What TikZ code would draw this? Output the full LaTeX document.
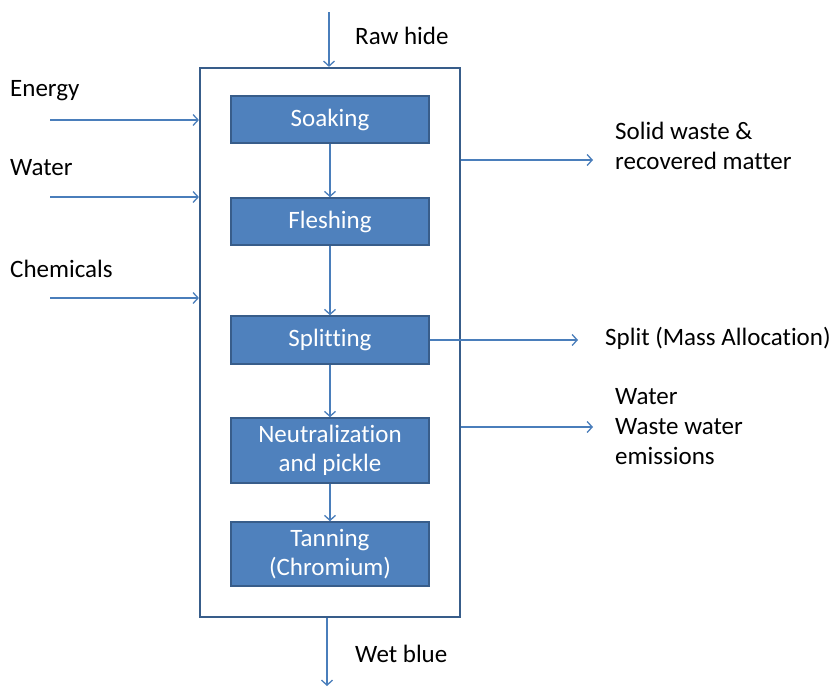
\documentclass[tikz,border=0pt]{standalone}
\usepackage{fontspec}
\setmainfont[Ligatures={NoCommon}]{Carlito}
\usetikzlibrary{arrows.meta}
\definecolor{boxfill}{HTML}{4F81BD}
\definecolor{boxedge}{HTML}{385D8A}
\definecolor{linec}{HTML}{4A7EBB}
\begin{document}
\begin{tikzpicture}[x=1pt,y=-1pt,
  font=\fontsize{25}{30}\selectfont,
  stage/.style={draw=boxedge, line width=1.5pt, fill=boxfill, text=white,
    minimum width=198pt, inner sep=0pt, align=center,
    font=\fontsize{25}{29}\selectfont},
  outerbox/.style={draw=boxedge, line width=2.2pt, minimum width=260pt,
    minimum height=549pt, inner sep=0pt},
  flow/.style={draw=linec, line width=1.3pt, -{Straight Barb[length=5pt,width=11pt]}},
  lbl/.style={inner sep=0pt, text=black, align=left}]
\useasboundingbox (0,0) rectangle (834,686);

\node[outerbox] (proc) at (330,342.5) {};

\node[stage, minimum height=47pt] (soak)  at (330,119.5) {Soaking};
\node[stage, minimum height=47pt] (flesh) at (330,221.5) {Fleshing};
\node[stage, minimum height=48pt] (split) at (330,340)   {Splitting};
\node[stage, minimum height=65pt] (neut)  at (330,450.5) {Neutralization\\and pickle};
\node[stage, minimum height=64pt] (tan)   at (330,554)   {Tanning\\(Chromium)};

% internal flow
\draw[flow] (soak.south) -- (flesh.north);
\draw[flow] (flesh.south) -- (split.north);
\draw[flow] (split.south) -- (neut.north);
\draw[flow] (neut.south) -- (tan.north);

% top / bottom
\coordinate (rawtop) at (329,12);
\draw[flow] (rawtop) -- (rawtop |- proc.north);
\node[lbl, anchor=base west] (rawlbl) at (355,44) {Raw hide};

\coordinate (wetend) at (327,686);
\draw[flow] (proc.south -| wetend) -- (wetend);
\node[lbl, anchor=base west] (wetlbl) at (355,662) {Wet blue};

% inputs
\coordinate (ein) at (50,120);
\coordinate (win) at (50,197);
\coordinate (cin) at (50,298);
\draw[flow] (ein) -- (ein -| proc.west);
\draw[flow] (win) -- (win -| proc.west);
\draw[flow] (cin) -- (cin -| proc.west);
\node[lbl, anchor=base west] (elbl) at (10,96)  {Energy};
\node[lbl, anchor=base west] (wlbl) at (10,175) {Water};
\node[lbl, anchor=base west] (clbl) at (10,277) {Chemicals};

% outputs
\coordinate (swend) at (593,160);
\coordinate (spend) at (578,340);
\coordinate (wwend) at (593,427);
\draw[flow] (proc.east |- swend) -- (swend);
\draw[flow] (split.east) -- (spend);
\draw[flow] (proc.east |- wwend) -- (wwend);
\node[lbl, anchor=west] (swlbl) at (615,146) {Solid waste \&\\recovered matter};
\node[lbl, anchor=base west] (splbl) at (605,345) {Split (Mass Allocation)};
\node[lbl, anchor=west] (wwlbl) at (615,427) {Water\\Waste water\\emissions};
\end{tikzpicture}
\end{document}
